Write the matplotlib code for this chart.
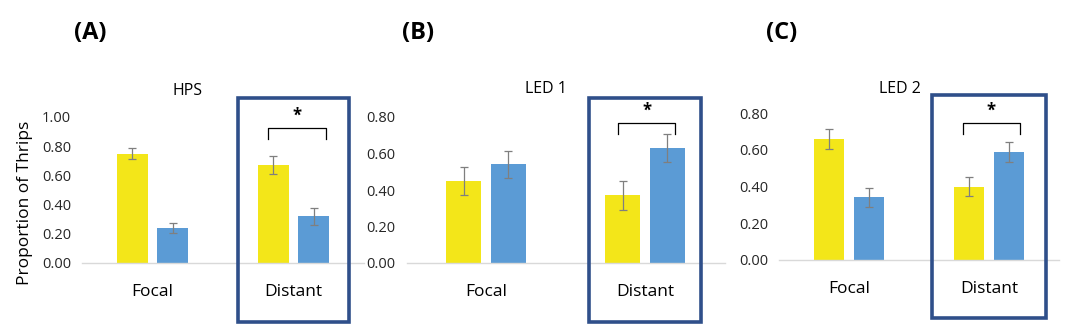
import matplotlib
matplotlib.use("Agg")
import matplotlib.pyplot as plt
from matplotlib.patches import Rectangle

plt.rcParams['font.family'] = ['Open Sans', 'DejaVu Sans']

# Data
categories = ["Focal", "Distant"]
panel_letters = ["(A)", "(B)", "(C)"]
panel_titles = ["HPS", "LED 1", "LED 2"]
yellow_means = [[0.75, 0.67], [0.45, 0.37], [0.66, 0.40]]
yellow_err = [[0.035, 0.06], [0.075, 0.077], [0.055, 0.054]]
blue_means = [[0.24, 0.32], [0.54, 0.63], [0.34, 0.59]]
blue_err = [[0.034, 0.06], [0.072, 0.075], [0.054, 0.055]]
y_max = [1.0, 0.8, 0.8]
y_ticks = [[0.0, 0.2, 0.4, 0.6, 0.8, 1.0], [0.0, 0.2, 0.4, 0.6, 0.8], [0.0, 0.2, 0.4, 0.6, 0.8]]

YELLOW = "#F3E619"
BLUE = "#5B9BD5"
BOX = "#2F4F8A"
ERR = "#7F7F7F"

W, H = 1067, 336
fig = plt.figure(figsize=(W / 100, H / 100), dpi=100)

# Axes placement in pixels: (left, right, baseline y, top y)
layout = [(82, 364, 263, 117), (406.5, 724.5, 263, 117), (779, 1059, 259.7, 113.3)]
bar_w = [0.22, 0.223, 0.218]
offs = [0.143, 0.14, 0.143]
# Distant box: half-width in x data units, top and bottom in y data units
boxes = [(0.397, 1.13, -0.404), (0.355, 0.904, -0.323), (0.407, 0.90, -0.319)]
# bracket: x0, x1, top y, leg y
brackets = [(0.816, 1.227, 0.925, 0.849), (0.83, 1.189, 0.769, 0.707), (0.814, 1.221, 0.749, 0.687)]
letter_x = [90, 418, 782]
title_pos = [(187, 91), (546, 89), (900, 89)]

for i in range(3):
    l, r, b, t = layout[i]
    ax = fig.add_axes([l / W, (H - b) / H, (r - l) / W, (b - t) / H])
    x = list(range(len(categories)))
    ekw = dict(ecolor=ERR, elinewidth=0.9, capsize=3, capthick=0.9)
    ax.bar([xi - offs[i] for xi in x], yellow_means[i], width=bar_w[i], color=YELLOW,
           yerr=yellow_err[i], error_kw=ekw)
    ax.bar([xi + offs[i] for xi in x], blue_means[i], width=bar_w[i], color=BLUE,
           yerr=blue_err[i], error_kw=ekw)
    ax.set_xlim(-0.5, 1.5)
    ax.set_ylim(0, y_max[i])
    ax.set_yticks(y_ticks[i])
    ax.set_yticklabels([f"{v:.2f}" for v in y_ticks[i]], fontsize=10.5, color="#262626")
    ax.set_xticks(x)
    ax.set_xticklabels(categories, fontsize=12.5, color="black")
    ax.tick_params(axis="both", length=0)
    ax.tick_params(axis="x", pad=15)
    ax.tick_params(axis="y", pad=8)
    for s in ["top", "right", "left"]:
        ax.spines[s].set_visible(False)
    ax.spines["bottom"].set_color("#D9D9D9")
    ax.spines["bottom"].set_linewidth(1.0)

    # box around the Distant group
    hw, ytop, ybot = boxes[i]
    ax.add_patch(Rectangle((1 - hw, ybot), 2 * hw, ytop - ybot, fill=False,
                           edgecolor=BOX, linewidth=2.6, clip_on=False, zorder=5))
    # significance bracket
    x0, x1, yt, yl = brackets[i]
    ax.plot([x0, x0, x1, x1], [yl, yt, yt, yl], color="black", linewidth=0.9,
            clip_on=False, zorder=5)
    ax.text((x0 + x1) / 2, yt + 0.02 * y_max[i], "*", ha="center", va="bottom",
            fontsize=12, fontweight="bold", clip_on=False)

    tx, ty = title_pos[i]
    fig.text(tx / W, 1 - ty / H, panel_titles[i], fontsize=11.5, ha="center", va="center")
    fig.text(letter_x[i] / W, 1 - 33 / H, panel_letters[i], fontsize=17,
             fontweight="bold", ha="center", va="center")

fig.text(25 / W, 1 - 203 / H, "Proportion of Thrips", fontsize=12.5, rotation=90,
         ha="center", va="center")

fig.savefig("out.png", dpi=100, facecolor="white")
